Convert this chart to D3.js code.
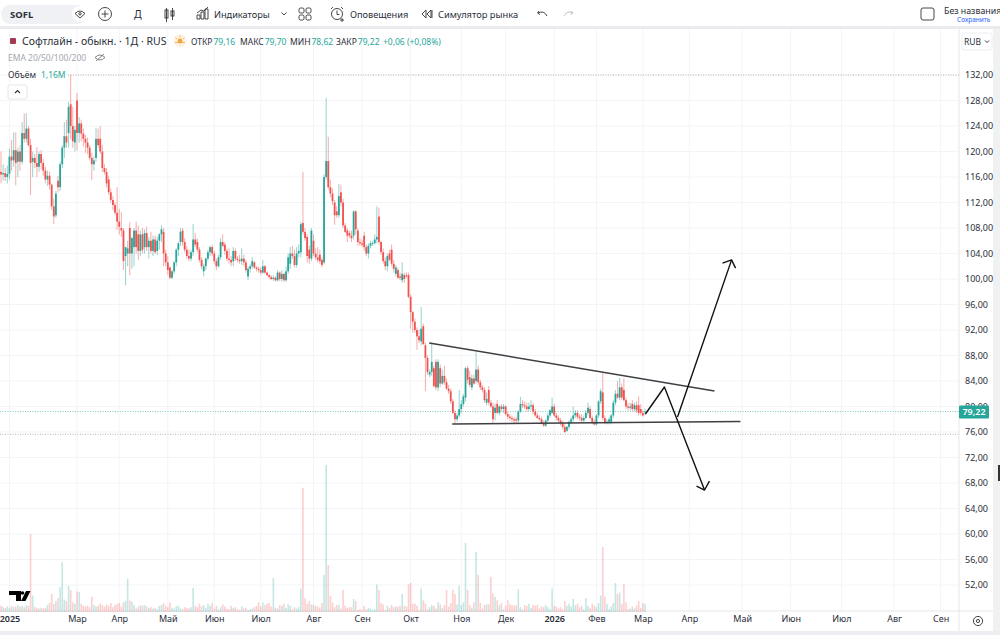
<!DOCTYPE html>
<html>
<head>
<meta charset="utf-8">
<script src="https://cdn.jsdelivr.net/npm/d3@7"></script>
<style>
  html, body { margin: 0; padding: 0; background: #fff; overflow: hidden; }
  text { font-family: "Noto Sans", "Open Sans", sans-serif; fill: #2a2e39; }
</style>
</head>
<body>
<svg id="chart" width="1000" height="635"></svg>
<script>
const opens = [116.8,116.4,116.6,116,116.5,119.2,118.6,120.2,118.4,120,
118.4,122.9,122,123.6,121,118.4,119,118.2,117.6,119.6,
118.2,117,115.6,116.2,114.8,111.4,110,115.4,114.4,118,
120.6,122.4,122.9,127.4,124,121.4,128,122.9,124.4,122.8,
122,121.4,120.6,119,118,119,122,122,120,117.4,
116.8,115.6,113.6,112.4,111.6,110.4,109,108,107.6,103.6,
104,108,104,105,107.6,107,104.4,107,105,107.2,
105,106,104.4,106.2,104.4,106,107,107.4,104,102.6,
101.8,100.2,101.2,102.6,104.6,105.8,107.6,105.8,104.6,103.6,
103.2,104.2,106.2,105.8,104.6,103,101.2,102,103.2,104.2,
105,104,102.8,102,103.4,105.8,105.4,104.4,103.2,103,
102.8,104.4,103.2,103,102.8,103.2,102.6,100.4,101.6,102,
102.6,101.8,101.6,101.4,101,102,101,100.6,100.3,100,
100.2,99.8,101,100,100.8,99.8,101.2,102.4,104,103.6,
102.2,104,104.2,108.8,107.4,106.6,104.6,103.2,106,104,
103.4,103.8,103,102.6,116,118.5,114.4,113.4,112,110.6,
110,113.6,112,108.4,107.6,107.2,106.8,106.8,110.6,107.6,
105.8,105.6,106.8,105,104,105.2,105.6,105.6,106.2,109.8,
105.8,104.2,102.8,102,104,104.6,102.4,100.8,101.4,100.4,
99.8,100.6,100.6,100.6,97.2,94.8,93.3,92,91,90.2,
92.6,89.6,87.6,85,85.4,86,87,83,86,83.6,
84.8,83.8,82.8,82.4,80.8,79,78,78.6,79.6,80.4,
81.4,86,84.6,83,84.4,84,85.8,83.8,83,82.6,
80.6,82.6,80.6,80,79,80.4,79,80,79.6,80,
78.8,78.4,78.2,78,78,77.8,79.2,80.4,80.2,80,
79.6,80,80.2,79.2,78.6,78.2,78,77.4,77,77.8,
78.6,79,80,78.6,78.2,77.8,77.4,76.8,76.2,76.8,
77.6,78,78.6,79,78.4,78.2,77.8,78.2,79,79.6,
78.2,77.6,77.2,78.6,80.8,82.2,78.2,77.4,77.6,77.6,
78.6,80.6,82,81.4,83,82.6,81,80,79.8,80.4,
79.6,80.2,80.2,79.6,79,79.16];

const highs = [120,118,117.4,117.8,120.4,121.8,123,123,120.6,121,
124.6,126,126,124,122,120,119.6,120.7,120,120.2,
118.8,117.6,117,116.8,115,112.6,113.8,116.2,118.4,121,
124.6,125,127.8,132,127,124,129.2,125.4,125,123.6,
122.6,122.2,121,119.8,119.2,123.7,123.6,124,121,118,
117.4,116.2,114.2,113,112,114.4,111,110.5,108,105,
106,108.9,106.6,108,109,108.4,107.6,108,107.8,108.2,
106.6,107.4,106.8,106.8,106.6,107.2,108.4,108,104.6,103.6,
102,101.4,102.8,104.8,105.8,108,108,106.4,105.2,104.6,
104.6,108.6,107.2,106.4,105,103.4,102.4,103.4,104.6,105.2,
105.4,104.4,103.2,103.8,106.4,107,105.8,104.8,104.8,103.6,
105,104.8,103.6,103.8,104.8,103.8,103,102,102.4,103.4,
102.8,102,102,101.8,103,102.2,101.2,100.8,100.6,100.6,
100.4,101.4,101.2,101.4,101,102,104,105,105.2,104.6,
105,105.4,109,116.8,108,107,105.2,108,107,104.8,
105,104.6,103.4,116.4,128.4,122.3,115.6,114.2,112.4,111.4,
114.9,114.8,112.6,108.8,108,107.6,107.6,110.8,110.8,108,
106.4,106.2,107.4,105.4,105.6,106,106,107,111.4,111.2,
106,104.8,103.4,104,104.6,105.4,103,102.2,101.8,101,
102.6,101,101,101,97.6,95,93.8,92.4,92,95.6,
93,90,88,85.8,90,86.4,87.4,87.4,86.6,85.8,
86.4,84.4,83.4,82.8,81.2,79.4,79,82.6,81,82,
86.2,86.4,85.6,85,85,88.5,86.4,84.2,83.4,83,
82.2,83.2,81,80.6,80.4,81,80.2,80.4,80.4,80.2,
79.2,78.8,78.6,78.4,78.4,79.4,81.5,81,80.8,80.6,
80.6,81,80.6,79.6,79,78.6,78.4,77.8,78,79,
79.6,81.4,80.4,79,78.6,78.2,77.8,77.2,77,77.8,
78.4,80,79.4,79.4,78.8,78.8,78.6,79.4,80.6,80,
78.6,78,78.8,81,82.8,85.3,78.6,78,78.4,78.8,
81,82.6,84,84.5,83.6,84.4,81.4,80.6,80.6,81,
80.6,80.8,81.6,80.4,79.4,79.7];

const lows = [115,115.4,115.4,115,115.6,117,117.6,114.7,116,117,
118,121.4,121.4,120.8,113.2,116,117.4,116,116.8,117.2,
116.2,115,114.6,114,110.8,108.6,109.6,113.6,113.8,117.4,
119,120.6,120.6,122,120.6,120,120.2,121.4,121.6,120.8,
119.8,119.6,118.6,115.5,117,118.4,120.6,119.6,116.8,116.4,
114.4,113.2,112,110.8,110,107.7,107,106.6,101.4,99,
102,100.6,101.6,102,104,103,103.6,104,104,104.4,
103.2,104,103.6,104,103.8,104.6,105.8,102,102,100.6,
100,100,100.8,102,103.6,105.2,105.2,104.2,103.2,102.8,
102.8,103.6,105,104.2,102.6,101.6,100.4,101.4,102.8,103.6,
103.6,102.4,101.4,101.8,103,105,103.8,102.8,102.4,102,
102,102.8,102.6,102.4,102.2,102,101,99.8,101,101.6,
101.6,101.2,101,100.6,100.8,100.8,100.4,100,99.8,99.7,
99.6,99.6,99.7,99.6,99.6,99.6,100.8,101.6,103.2,101.8,
101.8,103.4,103.4,107,106,102.6,102.4,102.8,103.6,103,
102.6,102.4,101.8,102.4,115.6,114,112.8,111.6,108.5,109.6,
109.6,111.4,108,107.2,105.8,106.4,105.8,106.2,107,105.2,
105.2,105,104.4,103.6,103.2,104.8,105.2,105.4,105.6,105.4,
103.8,102.4,101.4,101.2,102.8,102,101,100.4,100,99.8,
99.4,99.4,100.2,97,92.2,91.6,91.6,88.9,90,89.6,
89.6,82.4,85,84.6,84.8,83,82.6,82.4,83,83.4,
83.4,82.6,82,80.4,78.8,77.4,77.6,78.2,79,80,
80.8,83.6,83,82.6,83.4,83.6,83.4,82.6,82.2,80.6,
80.2,80.2,79.8,77.4,77.8,78.8,78.6,79.2,79,78.6,
78,77.8,77.6,77.4,77.4,77.4,79,79.8,79.6,79.2,
79.2,79.4,78.8,78.4,78,77.8,77.2,76.8,76.8,77.4,
78.2,78.8,78.4,77.8,77.4,77,76.4,75.8,76,76.4,
77.2,77.6,78.2,78,77.8,77.6,77.4,78,78.6,78,
77.2,77,77,78.2,80.4,77.8,77.2,77.2,77.2,77.2,
78.2,80.2,81.2,81,81,80.8,79.6,79.4,79.4,79.2,
79.2,79,78.6,78.6,78.4,78.62];

const closes = [116.4,116.6,116,116.5,119.2,118.6,120.2,118.2,120,118.4,
122.9,122,123.6,121,118.2,119,118.2,117.6,119.6,118.2,
117,115.6,116.2,114.8,111.4,109.8,113.4,114.4,118,120.6,
122.4,121.4,127,124,121.6,123.4,122.9,124.4,122.8,122,
121.4,120.6,119,118,118.6,122,121,120,117.4,116.8,
115,113.6,112.4,111.6,110.4,109,108.2,107.6,102.8,105,
104.8,104,106.4,107.6,105,104.4,107,104.6,107.2,105,
106,104.4,106.2,104.2,106,107,107.8,104,102.6,101.4,
100.2,101.2,102.6,104.6,105.6,107.4,105.8,104.6,103.6,103.2,
104.2,106.2,105.4,104.6,103,102,102,103.2,104.2,105,
104,102.8,102,103.4,105.8,105.2,104.4,103.2,103,102.6,
104.4,103.2,103,102.8,103.2,102.6,101.4,101.6,102,102.8,
101.8,101.6,101.4,101,102,101,100.6,100.3,100,100.2,
99.8,101,100,100.8,99.8,101.2,103.4,104,103.6,102.2,
104,104.4,108.6,107.4,106.4,103.6,103.2,107.6,104,103.4,
103,102.8,102.2,116,118.5,114.4,113.4,112.2,110,110,
113,112,108.4,107.4,106.8,106.8,106.4,110.6,107.8,105.8,
105.6,105.4,105,104,105.2,105.6,105.6,106.2,106.6,105.8,
104.2,102.8,102,103.6,103,102.4,101.6,101.8,100.2,100.2,
100.8,100,100.4,97.2,94.8,93.3,92,91,90.4,92.2,
89.8,87.6,85.4,85.4,87,83.2,83,87,83.6,84.8,
83.8,82.8,82.4,80.8,79,78,78.6,79.6,80.4,81.6,
86,84.2,83.4,84.4,83.6,85.8,83.8,83,82.6,81,
81.2,80.6,80,78,79.8,79,80,79.6,80,78.8,
78.4,78.2,78,77.8,77.8,79.2,80.4,80.2,80,79.6,
80,80.2,79.2,78.6,78.2,78,77.4,77,77.8,78.6,
79.4,80,78.6,78.2,77.8,77.4,76.8,76,76.8,77.6,
78,78.6,79,78.4,78.2,77.8,78.2,79,79.8,78.2,
77.6,77.2,78.6,80.8,82.4,78.2,77.4,77.6,78,78.6,
80.6,82,81.4,83,81.4,81,80,79.8,80,79.6,
80.2,79.4,79,79,78.6,79.22];

// volume in millions
const volumes = [.9,.7,.6,.8,.6,.9,.7,.8,1,.8,
.9,.7,1,.9,11.3,2.4,.7,.6,.5,.6,
.5,.6,1,1.3,2.6,1.2,1.6,2,3.6,7.2,
1.8,1.6,3.8,3.2,1.4,1.2,3,2.9,1.2,.9,
.8,.9,.7,2.2,1,.8,.9,1.2,1,.8,
1.1,.9,1.3,.7,1,1.2,1.3,.8,1.4,1.6,
4.8,1.7,1.5,1,.5,.8,1,.9,1,.8,
.6,.7,.5,.6,.4,.9,1,1.3,.9,.7,
1.4,.6,.5,.8,.9,.5,.4,.7,.6,.5,
.7,3.5,.9,.7,1.2,.8,1,.6,1.2,.9,
1.3,.5,.9,.4,.7,1.1,.8,.5,.4,.9,
.6,.7,.4,.3,.8,.5,.6,.3,.4,.5,
.7,.9,1.4,.8,1.4,1,1.2,1.3,.8,4.9,
.6,.5,1,.9,1.2,.6,1.1,.9,.4,.7,
.5,.7,3.4,18,2,1.2,1.6,1.1,1,.9,
.8,.6,1.3,5.4,21.3,6.8,2.3,1.4,.7,1,
1,.5,3.2,.9,.6,.7,.7,1.9,1.6,.3,
.4,.3,.9,.4,.6,.5,.3,.4,4,3.2,
1.3,1.1,.3,.9,.6,1,.7,.8,.8,.9,
2.6,.9,.8,4,4.2,1.2,1.2,.9,.3,3.4,
1.7,1.2,.4,.7,1,.9,.5,1.4,1.1,.6,
1,3.2,.8,1.3,3.2,2.6,1.1,3.8,1,1.4,
10,3.2,1,.6,1.4,8.7,5.4,1.3,.5,1,
1.1,1.1,5.1,2.7,2.2,1.7,1,1.3,.4,.9,
1.7,1.1,1,.9,1,3.3,.7,.4,1,.9,
1.2,.6,1,.9,1,.5,.8,.7,1,.7,
.4,3.4,.9,.8,.5,.7,.4,1.6,.9,1.2,
.8,1.9,1,1.2,.7,.9,.4,2,.9,.6,
1.2,.9,.7,1.3,2.4,9.4,2.2,1.2,.4,.8,
1.3,4.2,2.6,2.8,1.2,4,1.4,.4,.5,.8,
.5,.9,1.6,.6,1.3,1.16];

const priceTicks = [132,128,124,120,116,112,108,104,100,96,92,88,84,80,76,72,68,64,60,56,52];
const monthLabels = ["2025","Мар","Апр","Май","Июн","Июл","Авг","Сен","Окт","Ноя","Дек","2026","Фев","Мар","Апр","Май","Июн","Июл","Авг","Сен"];
const monthBars = [4,36,56,79,101,123,148,171,194,218,239,262,282,304,326,351,374,398,423,445];

const lastPrice = 79.22;
const highLine = 132;
const lowLine = 75.8;

// hand drawn lines, as [bar, price]
const resistance = [[202.8,89.96],[337.9,82.43]];
const support = [[213.7,77.25],[350.2,77.63]];
const downArrow = [[305.2,78.82],[314.2,83.06],[333.2,66.9]];
const downHead = [[329.4,67.5],[333.2,66.9],[335.5,68.3]];
const upArrow = [[320.4,78.35],[346,103]];
const upHead = [[341.7,102.5],[346,103],[347.9,101.7]];

const UP = "#26a69a", DOWN = "#ef5350";
const plotRight = 959, axisBottom = 611;

const svg = d3.select("#chart");

const x = d3.scaleLinear().domain([0, opens.length - 1]).range([1, 645]);
const y = d3.scaleLinear().domain([132, 52]).range([75, 585]);
const yVol = d3.scaleLinear().domain([0, 21.3]).range([612, 465]);

const bars = d3.range(opens.length);
const isUp = (i) => closes[i] >= opens[i];

svg.append("defs").append("clipPath").attr("id", "plot")
  .append("rect").attr("x", 0).attr("y", 29).attr("width", plotRight).attr("height", axisBottom - 29 + 1);

// frame
svg.append("rect").attr("x", 0).attr("y", 26).attr("width", 1000).attr("height", 3).attr("fill", "#e9ebef");
svg.append("rect").attr("x", 993).attr("y", 29).attr("width", 7).attr("height", 606).attr("fill", "#f0f1f3");
svg.append("rect").attr("x", 0).attr("y", 631).attr("width", 1000).attr("height", 4).attr("fill", "#eceef1");
svg.append("line").attr("x1", 0).attr("x2", 993).attr("y1", axisBottom).attr("y2", axisBottom).attr("stroke", "#e4e6ea");
svg.append("line").attr("x1", plotRight).attr("x2", plotRight).attr("y1", 29).attr("y2", 631).attr("stroke", "#e4e6ea");

// grid
const grid = svg.append("g").attr("stroke", "#f3f4f7");
grid.selectAll(".h").data(priceTicks).join("line")
  .attr("x1", 0).attr("x2", plotRight).attr("y1", (d) => y(d)).attr("y2", (d) => y(d));
grid.selectAll(".v").data(monthBars).join("line")
  .attr("x1", (d) => x(d)).attr("x2", (d) => x(d)).attr("y1", 29).attr("y2", axisBottom);

// volume
svg.append("g").attr("clip-path", "url(#plot)").selectAll("rect").data(bars).join("rect")
  .attr("x", (i) => x(i) - 0.8)
  .attr("width", 1.6)
  .attr("y", (i) => yVol(volumes[i]))
  .attr("height", (i) => yVol(0) - yVol(volumes[i]))
  .attr("fill", (i) => (isUp(i) ? UP : DOWN))
  .attr("opacity", 0.27);

// dotted price lines
const dotted = svg.append("g").attr("stroke-dasharray", "1 1.5");
dotted.append("line").attr("x1", 68).attr("x2", plotRight).attr("y1", y(highLine)).attr("y2", y(highLine)).attr("stroke", "#b4b7be");
dotted.append("line").attr("x1", 0).attr("x2", plotRight).attr("y1", y(lowLine) + 1).attr("y2", y(lowLine) + 1).attr("stroke", "#b4b7be");
dotted.append("line").attr("x1", 0).attr("x2", plotRight).attr("y1", y(lastPrice)).attr("y2", y(lastPrice)).attr("stroke", UP).attr("stroke-opacity", 0.6);

// candles
const candles = svg.append("g").attr("clip-path", "url(#plot)").style("filter", "blur(0.35px)");
candles.selectAll(".wick").data(bars).join("line")
  .attr("x1", (i) => x(i)).attr("x2", (i) => x(i))
  .attr("y1", (i) => y(highs[i])).attr("y2", (i) => y(lows[i]))
  .attr("stroke", (i) => (isUp(i) ? UP : DOWN))
  .attr("stroke-opacity", 0.55)
  .attr("stroke-width", 0.9);
candles.selectAll(".body").data(bars).join("rect")
  .attr("x", (i) => x(i) - 0.9)
  .attr("width", 1.8)
  .attr("y", (i) => y(Math.max(opens[i], closes[i])))
  .attr("height", (i) => Math.max(0.8, Math.abs(y(opens[i]) - y(closes[i]))))
  .attr("fill", (i) => (isUp(i) ? UP : DOWN));

// hand drawn pattern
const line = d3.line().x((d) => x(d[0])).y((d) => y(d[1]));
const pen = svg.append("g").attr("fill", "none").attr("stroke-linejoin", "round");
[resistance, support].forEach((d) => {
  pen.append("path").attr("d", line(d)).attr("stroke", "#3f3f44").attr("stroke-width", 1.5);
});
[downArrow, downHead, upArrow, upHead].forEach((d) => {
  pen.append("path").attr("d", line(d)).attr("stroke", "#111").attr("stroke-width", 1.4);
});

// price axis
const priceAxis = svg.append("g")
  .attr("transform", `translate(${plotRight},0)`)
  .call(d3.axisRight(y).tickValues(priceTicks).tickSize(0).tickPadding(6)
    .tickFormat((d) => d.toFixed(2).replace(".", ",")));
priceAxis.select(".domain").remove();
priceAxis.selectAll("text").style("font-size", "9px").attr("fill", "#2a2e39");

svg.append("rect").attr("x", plotRight).attr("y", y(lastPrice) - 6).attr("width", 30).attr("height", 13).attr("rx", 1).attr("fill", UP);
svg.append("text").attr("x", plotRight + 15).attr("y", y(lastPrice) + 3.5).attr("text-anchor", "middle")
  .style("fill", "#fff").style("font-size", "9px").style("font-weight", 600)
  .text(lastPrice.toFixed(2).replace(".", ","));

// time axis
const timeAxis = svg.append("g")
  .attr("transform", `translate(0,${axisBottom})`)
  .call(d3.axisBottom(x).tickValues(monthBars).tickSize(0).tickPadding(5)
    .tickFormat((d, i) => monthLabels[i]));
timeAxis.select(".domain").remove();
timeAxis.selectAll("text").style("font-size", "9px").attr("fill", "#2a2e39")
  .filter((d, i) => monthLabels[i].length === 4).style("font-weight", 600);

// RUB box and settings
svg.append("rect").attr("x", 962).attr("y", 33).attr("width", 30).attr("height", 17).attr("rx", 2).attr("fill", "#fff").attr("stroke", "#eceef1");
svg.append("text").attr("x", 964).attr("y", 44.5).style("font-size", "8.5px").text("RUB");
svg.append("path").attr("d", "M985 40.5l2 2 2-2").attr("fill", "none").attr("stroke", "#333");
svg.append("circle").attr("cx", 978).attr("cy", 621).attr("r", 4.6).attr("fill", "none").attr("stroke", "#444");
svg.append("circle").attr("cx", 978).attr("cy", 621).attr("r", 1.6).attr("fill", "none").attr("stroke", "#444");
svg.append("rect").attr("x", 998).attr("y", 465).attr("width", 2).attr("height", 16).attr("fill", "#333");

// toolbar
const bar = svg.append("g");
bar.append("rect").attr("x", 1).attr("y", 5).attr("width", 86).attr("height", 19).attr("rx", 9).attr("fill", "#f0f1f4");
bar.append("circle").attr("cx", 80).attr("cy", 14).attr("r", 8).attr("fill", "#fff");
bar.append("text").attr("x", 10).attr("y", 18).style("font-size", "9.5px").style("font-weight", 700).text("SOFL");

const icons = bar.append("g").attr("fill", "none").attr("stroke", "#333").attr("stroke-width", 0.9);
icons.append("path").attr("d", "M75 13.5q5-5 10 0l-5 4.5z");
icons.append("circle").attr("cx", 80).attr("cy", 13.8).attr("r", 1.2);
icons.append("circle").attr("cx", 105).attr("cy", 14).attr("r", 6.5);
icons.append("path").attr("d", "M105 10.5v7M101.5 14h7");
icons.append("path").attr("d", "M166.5 8v14M172.5 8v12");
icons.append("rect").attr("x", 165).attr("y", 10).attr("width", 3).attr("height", 8);
icons.append("rect").attr("x", 171).attr("y", 11).attr("width", 3).attr("height", 5);
icons.append("path").attr("d", "M197 19h3v-4h-3zM201 19h3v-7h-3zM205 19h3v-10h-3zM197 13l4-3 3 1 4-4");
icons.append("path").attr("d", "M281.5 12.5l2.5 2.5 2.5-2.5");
[[299,8],[306,8],[299,15],[306,15]].forEach((d) => {
  icons.append("rect").attr("x", d[0]).attr("y", d[1]).attr("width", 5).attr("height", 5).attr("rx", 1.5);
});
icons.append("circle").attr("cx", 337).attr("cy", 14).attr("r", 5.5);
icons.append("path").attr("d", "M337 10.5v4h2.5M331 9l2-2M343 9l-2-2M342 18v4M340 20h4");
icons.append("path").attr("d", "M426 10l-4 4 4 4zM431 10l-4 4 4 4zM432 10v8");
icons.append("path").attr("d", "M539 11l-1.5 2 2.5 1.5M538 13q6-3 9 3");
icons.append("path").attr("d", "M571 11l2 2-2.500 1.500M573 13q-6-3-9 3").attr("stroke", "#b8bcc4");
icons.append("rect").attr("x", 921).attr("y", 8).attr("width", 13).attr("height", 12).attr("rx", 2);

bar.append("text").attr("x", 134).attr("y", 18).style("font-size", "10.5px").text("Д");
bar.append("text").attr("x", 214).attr("y", 18).style("font-size", "9.2px").text("Индикаторы");
bar.append("text").attr("x", 350).attr("y", 18).style("font-size", "9.2px").text("Оповещения");
bar.append("text").attr("x", 438).attr("y", 18).style("font-size", "9.3px").text("Симулятор рынка");
bar.append("text").attr("x", 944).attr("y", 14).style("font-size", "8.8px").text("Без названия");
bar.append("text").attr("x", 957).attr("y", 22).style("font-size", "6.5px").style("fill", "#2962ff").text("Сохранить");

// legend
const legend = svg.append("g");
legend.append("rect").attr("x", 10).attr("y", 38).attr("width", 6).attr("height", 6).attr("rx", 1).attr("fill", "#a33a55");
legend.append("text").attr("x", 22).attr("y", 45).style("font-size", "10.5px").text("Софтлайн - обыкн. · 1Д · RUS");
legend.append("circle").attr("cx", 180).attr("cy", 41).attr("r", 6.5).attr("fill", "#fdf1e2");
legend.append("path").attr("d", "M175 42.5h10M180 35.500v2M175.500 37.500l1.500 1.500M184.500 37.500l-1.500 1.500").attr("stroke", "#f6a33b").attr("stroke-width", 0.8);
legend.append("circle").attr("cx", 180).attr("cy", 41).attr("r", 2.4).attr("fill", "#f6a33b");

const ohlcLabels = ["ОТКР","МАКС","МИН","ЗАКР"];
const ohlcValues = ["79,16","79,70","78,62","79,22"];
const ohlcLeft = [191,240,290,336];
ohlcLabels.forEach((d, i) => {
  const t = legend.append("text").attr("x", ohlcLeft[i]).attr("y", 44.5).style("font-size", "8.5px");
  t.append("tspan").text(d);
  t.append("tspan").style("fill", UP).attr("dx", 1).text(ohlcValues[i]);
});
legend.append("text").attr("x", 383).attr("y", 44.5).style("font-size", "8.5px").style("fill", UP).text("+0,06 (+0,08%)");

legend.append("text").attr("x", 8).attr("y", 60.5).style("font-size", "8.5px").style("fill", "#a3a6af").text("EMA 20/50/100/200");
legend.append("path").attr("d", "M95 57.500q5-5 10 0q-5 5-10 0zM96 61l8-7").attr("fill", "none").attr("stroke", "#666").attr("stroke-width", 0.8);
legend.append("text").attr("x", 8).attr("y", 77.5).style("font-size", "8.5px").text("Объём");
legend.append("text").attr("x", 41).attr("y", 77.5).style("font-size", "8.5px").style("fill", UP).text("1,16M");
legend.append("rect").attr("x", 8).attr("y", 85).attr("width", 19).attr("height", 14).attr("rx", 2).attr("fill", "#fff").attr("stroke", "#e4e6ea");
legend.append("path").attr("d", "M15 93l2.500-2.500 2.500 2.500").attr("fill", "none").attr("stroke", "#333").attr("stroke-width", 1.1);

// logo
const logo = svg.append("g").attr("fill", "#000");
logo.append("path").attr("d", "M9 591h12v10h-5v-6h-7z");
logo.append("circle").attr("cx", 22.5).attr("cy", 593).attr("r", 1.8);
logo.append("path").attr("d", "M26 591h4.500l-5 10h-4.500z");
</script>
</body>
</html>
